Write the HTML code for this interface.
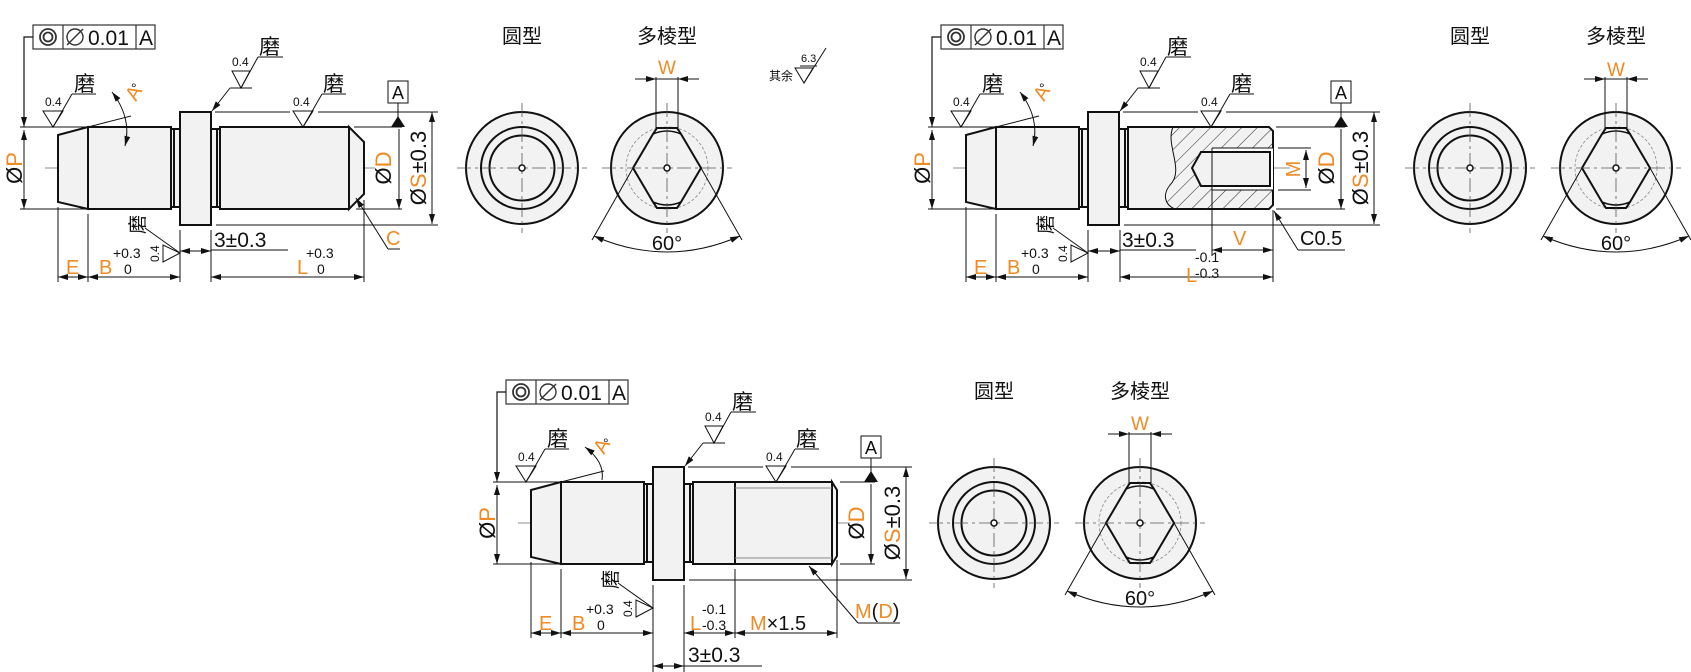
<!DOCTYPE html>
<html><head><meta charset="utf-8">
<style>
html,body{margin:0;padding:0;background:#fff;}
svg{display:block;}
text{font-family:"Liberation Sans","Noto Sans CJK SC",sans-serif;fill:#111;}
.o{fill:#f08a24;}
.k{font-family:"Noto Sans CJK SC","WenQuanYi Zen Hei",sans-serif;}
</style></head><body>
<svg width="1691" height="672" viewBox="0 0 1691 672" xmlns="http://www.w3.org/2000/svg">
<defs>
<marker id="a" viewBox="0 0 10 6" refX="10" refY="3" markerWidth="10" markerHeight="6" orient="auto-start-reverse" markerUnits="userSpaceOnUse"><path d="M0,0L10,3L0,6z" fill="#111"/></marker>
<pattern id="h" width="11" height="11" patternUnits="userSpaceOnUse" patternTransform="rotate(45)"><line x1="0" y1="0" x2="0" y2="11" stroke="#222" stroke-width="1"/></pattern>
<g id="left" stroke="#111" stroke-width="2" fill="#f2f2f2">
<polygon points="58,135 88,127 88,209 58,202"/>
<rect x="88" y="127" width="83" height="82"/>
<rect x="171" y="129" width="9" height="78"/>
<line x1="174" y1="129" x2="174" y2="207"/>
<rect x="180" y="112" width="31" height="113"/>
<rect x="211" y="129" width="9" height="78"/>
<line x1="217" y1="129" x2="217" y2="207"/>
</g>
<g id="fcfbox" fill="none" stroke="#333" stroke-width="1.2">
<rect x="33" y="25" width="122" height="24"/><line x1="63" y1="25" x2="63" y2="49"/><line x1="136" y1="25" x2="136" y2="49"/>
<circle cx="48" cy="37" r="8" stroke-width="1.8"/><circle cx="48" cy="37" r="4.5" stroke-width="1.8"/>
<circle cx="75" cy="37" r="8" stroke-width="1.4"/><line x1="67" y1="45" x2="83" y2="29" stroke-width="1.4"/>
<polyline points="33,37 24,37 24,120" stroke="#111"/>
</g>
<g id="circ">
<circle cx="0" cy="0" r="56" fill="#f2f2f2" stroke="#111" stroke-width="2"/>
<circle cx="0" cy="0" r="41" fill="none" stroke="#111" stroke-width="2"/>
<circle cx="0" cy="0" r="32.5" fill="none" stroke="#111" stroke-width="2"/>
<line x1="-65" y1="0" x2="65" y2="0" stroke="#555" stroke-width="0.8" stroke-dasharray="14,4,3,4"/>
<line x1="0" y1="-65" x2="0" y2="65" stroke="#555" stroke-width="0.8" stroke-dasharray="14,4,3,4"/>
<circle cx="0" cy="0" r="3" fill="#fff" stroke="#111" stroke-width="1.5"/>
</g>
<g id="poly">
<circle cx="0" cy="0" r="56" fill="#f2f2f2" stroke="#111" stroke-width="2"/>
<circle cx="0" cy="0" r="41" fill="none" stroke="#888" stroke-width="0.8" stroke-dasharray="3,2"/>
<polygon points="-34,0 -14,-34 -10,-40 10,-40 14,-34 34,0 14,34 10,40 -10,40 -14,34" fill="#f2f2f2" stroke="#111" stroke-width="2"/>
<path d="M-14,-34 Q0,-40 14,-34 M-14,34 Q0,40 14,34" fill="none" stroke="#111" stroke-width="1.5"/>
<line x1="-65" y1="0" x2="65" y2="0" stroke="#555" stroke-width="0.8" stroke-dasharray="14,4,3,4"/>
<line x1="0" y1="-65" x2="0" y2="65" stroke="#555" stroke-width="0.8" stroke-dasharray="14,4,3,4"/>
<circle cx="0" cy="0" r="3" fill="#fff" stroke="#111" stroke-width="1.5"/>
<g stroke="#111" stroke-width="1" fill="none">
<line x1="-11" y1="-40" x2="-11" y2="-91"/><line x1="11" y1="-40" x2="11" y2="-91"/>
<line x1="-32" y1="-89" x2="-11" y2="-89" marker-end="url(#a)"/><line x1="32" y1="-89" x2="11" y2="-89" marker-end="url(#a)"/>
<line x1="-11" y1="-89" x2="11" y2="-89"/>
<line x1="-34" y1="0" x2="-75" y2="72"/><line x1="34" y1="0" x2="75" y2="72"/>
<path d="M-73,68 Q0,100 73,68" marker-start="url(#a)" marker-end="url(#a)"/>
</g>
</g>
</defs>

<!-- ===== PIECE 1 ===== -->
<use href="#fcfbox"/>
<line x1="24" y1="112" x2="24" y2="127" stroke="#111" marker-end="url(#a)"/>
<text x="88" y="45" font-size="21">0.01</text><text x="139" y="45" font-size="21">A</text>
<line x1="45" y1="168" x2="375" y2="168" stroke="#666" stroke-width="0.8" stroke-dasharray="18,5,4,5"/>
<use href="#left"/>
<rect x="220" y="127" width="129" height="82" fill="#f2f2f2" stroke="#111" stroke-width="2"/>
<polygon points="349,127 364,142 364,194 349,209" fill="#f2f2f2" stroke="#111" stroke-width="2"/>
<g stroke="#111" stroke-width="1" fill="none">
<line x1="20" y1="127" x2="160" y2="127"/><line x1="20" y1="209" x2="88" y2="209"/>
<line x1="24" y1="130" x2="24" y2="209" marker-start="url(#a)" marker-end="url(#a)"/>
<line x1="215" y1="112" x2="290" y2="112"/><line x1="318" y1="112" x2="438" y2="112"/>
<line x1="354" y1="127" x2="402" y2="127"/><line x1="356" y1="209" x2="402" y2="209"/>
<line x1="216" y1="225" x2="438" y2="225"/>
<line x1="399" y1="129" x2="399" y2="209" marker-end="url(#a)"/>
<line x1="432" y1="112" x2="432" y2="224" marker-start="url(#a)" marker-end="url(#a)"/>
<rect x="388" y="81" width="20" height="22"/><line x1="398" y1="103" x2="398" y2="117"/>
<line x1="58" y1="207" x2="58" y2="282"/><line x1="88" y1="214" x2="88" y2="282"/>
<line x1="180" y1="230" x2="180" y2="282"/><line x1="211" y1="230" x2="211" y2="282"/><line x1="364" y1="200" x2="364" y2="282"/>
<line x1="58" y1="277" x2="88" y2="277" marker-start="url(#a)" marker-end="url(#a)"/>
<line x1="88" y1="277" x2="180" y2="277" marker-start="url(#a)" marker-end="url(#a)"/>
<line x1="211" y1="277" x2="364" y2="277" marker-start="url(#a)" marker-end="url(#a)"/>
<line x1="196" y1="251" x2="180" y2="251" marker-end="url(#a)"/><line x1="195" y1="251" x2="211" y2="251" marker-end="url(#a)"/>
<line x1="211" y1="250" x2="288" y2="250"/>
<line x1="388" y1="249" x2="356" y2="198" marker-end="url(#a)"/><line x1="388" y1="249" x2="400" y2="249"/>
<polygon points="43,111 63,111 53,127"/><line x1="53" y1="127" x2="72" y2="94"/><line x1="72" y1="94" x2="96" y2="94"/>
<polygon points="232,71 250,71 241,88"/><line x1="241" y1="88" x2="258" y2="57"/><line x1="258" y1="57" x2="283" y2="57"/>
<line x1="230" y1="88" x2="252" y2="88"/><line x1="230" y1="88" x2="212" y2="111" marker-end="url(#a)"/>
<polygon points="293,111 313,111 303,127"/><line x1="303" y1="127" x2="322" y2="94"/><line x1="322" y1="94" x2="346" y2="94"/>
<polygon points="163,245 163,262 180,253"/><line x1="180" y1="253" x2="145" y2="228"/>
<line x1="88" y1="127" x2="131" y2="116"/>
<path d="M112,92 Q132,118 125,146" marker-start="url(#a)" marker-end="url(#a)"/>
</g>
<polygon points="391,127 405,127 398,116" fill="#111"/>
<text x="45" y="106" font-size="12">0.4</text><text x="74" y="91" font-size="21" class="k">磨</text>
<text x="232" y="66" font-size="12">0.4</text><text x="259" y="54" font-size="21" class="k">磨</text>
<text x="293" y="106" font-size="12">0.4</text><text x="323" y="91" font-size="21" class="k">磨</text>
<text x="392" y="99" font-size="18">A</text>
<text transform="translate(159,262) rotate(-90)" font-size="12">0.4</text>
<text transform="translate(144,234) rotate(-90)" font-size="19" class="k">磨</text>
<text transform="translate(136,102) rotate(-60)" font-size="20" class="o">A</text><text x="131" y="93" font-size="14">°</text>
<text transform="translate(22,168) rotate(-90)" font-size="22" text-anchor="middle"><tspan>Ø</tspan><tspan class="o">P</tspan></text>
<text transform="translate(391,168) rotate(-90)" font-size="22" text-anchor="middle"><tspan>Ø</tspan><tspan class="o">D</tspan></text>
<text transform="translate(426,168) rotate(-90)" font-size="22" text-anchor="middle"><tspan>Ø</tspan><tspan class="o">S</tspan><tspan>±0.3</tspan></text>
<text x="66" y="274" font-size="20" class="o">E</text>
<text x="99" y="274" font-size="20" class="o">B</text><text x="113" y="258" font-size="14">+0.3</text><text x="124" y="274" font-size="14">0</text>
<text x="214" y="247" font-size="21">3±0.3</text>
<text x="297" y="274" font-size="20" class="o">L</text><text x="306" y="258" font-size="14">+0.3</text><text x="317" y="274" font-size="14">0</text>
<text x="386" y="245" font-size="20" class="o">C</text>

<!-- end views set 1 -->
<text x="522" y="43" font-size="20" text-anchor="middle" class="k">圆型</text>
<text x="667" y="43" font-size="20" text-anchor="middle" class="k">多棱型</text>
<use href="#circ" transform="translate(522,168)"/>
<use href="#poly" transform="translate(667,168)"/>
<text x="667" y="74" font-size="19" text-anchor="middle" class="o">W</text>
<text x="667" y="250" font-size="20" text-anchor="middle">60°</text>

<!-- 其余 -->
<text x="769" y="80" font-size="12" class="k">其余</text>
<g stroke="#111" stroke-width="1" fill="none"><polygon points="795,68 813,68 804,83"/><line x1="804" y1="83" x2="826" y2="48"/><line x1="800" y1="66" x2="817" y2="66"/></g>
<text x="801" y="62" font-size="11">6.3</text>

<!-- ===== PIECE 2 ===== -->
<use href="#fcfbox" transform="translate(908,0)"/>
<line x1="932" y1="112" x2="932" y2="127" stroke="#111" marker-end="url(#a)"/>
<text x="996" y="45" font-size="21">0.01</text><text x="1047" y="45" font-size="21">A</text>
<line x1="953" y1="168" x2="1290" y2="168" stroke="#666" stroke-width="0.8" stroke-dasharray="18,5,4,5"/>
<use href="#left" transform="translate(908,0)"/>
<path d="M1128,127 H1269 L1273,131 V205 L1269,209 H1128 Z" fill="#f2f2f2" stroke="#111" stroke-width="2"/>
<path d="M1173,127 C1165,145 1185,170 1170,185 C1162,195 1165,205 1175,209 H1269 L1273,205 V131 L1269,127 Z" fill="url(#h)" stroke="none"/>
<path d="M1173,127 C1165,145 1185,170 1170,185 C1162,195 1165,205 1175,209" fill="none" stroke="#111" stroke-width="1"/>
<path d="M1273,148 H1212 V152 H1201 L1192,168 L1201,184 H1212 V190 H1273 Z" fill="#fff" stroke="none"/>
<path d="M1201,152 H1270 V186 H1201 L1192,168 Z" fill="#f2f2f2" stroke="#111" stroke-width="2"/>
<g stroke="#111" stroke-width="1" fill="none">
<line x1="1212" y1="148" x2="1273" y2="148"/><line x1="1212" y1="190" x2="1273" y2="190"/><line x1="1212" y1="148" x2="1212" y2="190"/>
<line x1="928" y1="127" x2="1068" y2="127"/><line x1="928" y1="209" x2="996" y2="209"/>
<line x1="932" y1="130" x2="932" y2="209" marker-start="url(#a)" marker-end="url(#a)"/>
<line x1="1123" y1="112" x2="1198" y2="112"/><line x1="1226" y1="112" x2="1380" y2="112"/>
<line x1="1276" y1="127" x2="1345" y2="127"/><line x1="1276" y1="209" x2="1345" y2="209"/>
<line x1="1124" y1="225" x2="1380" y2="225"/>
<line x1="1278" y1="148" x2="1311" y2="148"/><line x1="1278" y1="190" x2="1311" y2="190"/>
<line x1="1306" y1="150" x2="1306" y2="188" marker-start="url(#a)" marker-end="url(#a)"/>
<line x1="1341" y1="129" x2="1341" y2="209" marker-end="url(#a)"/>
<line x1="1374" y1="112" x2="1374" y2="224" marker-start="url(#a)" marker-end="url(#a)"/>
<rect x="1331" y="81" width="20" height="22"/><line x1="1341" y1="103" x2="1341" y2="117"/>
<line x1="966" y1="207" x2="966" y2="282"/><line x1="996" y1="214" x2="996" y2="282"/>
<line x1="1088" y1="230" x2="1088" y2="282"/><line x1="1120" y1="230" x2="1120" y2="282"/><line x1="1273" y1="210" x2="1273" y2="282"/>
<line x1="1212" y1="190" x2="1212" y2="256"/>
<line x1="966" y1="277" x2="996" y2="277" marker-start="url(#a)" marker-end="url(#a)"/>
<line x1="996" y1="277" x2="1088" y2="277" marker-start="url(#a)" marker-end="url(#a)"/>
<line x1="1120" y1="277" x2="1273" y2="277" marker-start="url(#a)" marker-end="url(#a)"/>
<line x1="1212" y1="250" x2="1273" y2="250" marker-start="url(#a)" marker-end="url(#a)"/>
<line x1="1104" y1="251" x2="1088" y2="251" marker-end="url(#a)"/><line x1="1103" y1="251" x2="1120" y2="251" marker-end="url(#a)"/>
<line x1="1120" y1="250" x2="1196" y2="250"/>
<line x1="1298" y1="250" x2="1274" y2="211" marker-end="url(#a)"/><line x1="1298" y1="250" x2="1345" y2="250"/>
<polygon points="951,111 971,111 961,127"/><line x1="961" y1="127" x2="980" y2="94"/><line x1="980" y1="94" x2="1004" y2="94"/>
<polygon points="1140,71 1158,71 1149,88"/><line x1="1149" y1="88" x2="1166" y2="57"/><line x1="1166" y1="57" x2="1191" y2="57"/>
<line x1="1138" y1="88" x2="1160" y2="88"/><line x1="1138" y1="88" x2="1120" y2="111" marker-end="url(#a)"/>
<polygon points="1201,111 1221,111 1211,127"/><line x1="1211" y1="127" x2="1230" y2="94"/><line x1="1230" y1="94" x2="1254" y2="94"/>
<polygon points="1071,245 1071,262 1088,253"/><line x1="1088" y1="253" x2="1053" y2="228"/>
<line x1="996" y1="127" x2="1039" y2="116"/>
<path d="M1020,92 Q1040,118 1033,146" marker-start="url(#a)" marker-end="url(#a)"/>
</g>
<polygon points="1334,127 1348,127 1341,116" fill="#111"/>
<text x="953" y="106" font-size="12">0.4</text><text x="982" y="91" font-size="21" class="k">磨</text>
<text x="1140" y="66" font-size="12">0.4</text><text x="1167" y="54" font-size="21" class="k">磨</text>
<text x="1201" y="106" font-size="12">0.4</text><text x="1231" y="91" font-size="21" class="k">磨</text>
<text x="1335" y="99" font-size="18">A</text>
<text transform="translate(1067,262) rotate(-90)" font-size="12">0.4</text>
<text transform="translate(1052,234) rotate(-90)" font-size="19" class="k">磨</text>
<text transform="translate(1044,102) rotate(-60)" font-size="20" class="o">A</text><text x="1039" y="93" font-size="14">°</text>
<text transform="translate(930,168) rotate(-90)" font-size="22" text-anchor="middle"><tspan>Ø</tspan><tspan class="o">P</tspan></text>
<text transform="translate(1300,169) rotate(-90)" font-size="20" text-anchor="middle" class="o">M</text>
<text transform="translate(1334,168) rotate(-90)" font-size="22" text-anchor="middle"><tspan>Ø</tspan><tspan class="o">D</tspan></text>
<text transform="translate(1368,168) rotate(-90)" font-size="22" text-anchor="middle"><tspan>Ø</tspan><tspan class="o">S</tspan><tspan>±0.3</tspan></text>
<text x="974" y="274" font-size="20" class="o">E</text>
<text x="1007" y="274" font-size="20" class="o">B</text><text x="1021" y="258" font-size="14">+0.3</text><text x="1032" y="274" font-size="14">0</text>
<text x="1122" y="247" font-size="21">3±0.3</text>
<text x="1233" y="245" font-size="20" class="o">V</text>
<text x="1186" y="282" font-size="20" class="o">L</text><text x="1195" y="262" font-size="14">-0.1</text><text x="1195" y="278" font-size="14">-0.3</text>
<text x="1300" y="245" font-size="20">C0.5</text>

<!-- end views set 2 -->
<text x="1470" y="43" font-size="20" text-anchor="middle" class="k">圆型</text>
<text x="1616" y="43" font-size="20" text-anchor="middle" class="k">多棱型</text>
<use href="#circ" transform="translate(1470,168)"/>
<use href="#poly" transform="translate(1616,168)"/>
<text x="1616" y="76" font-size="19" text-anchor="middle" class="o">W</text>
<text x="1616" y="250" font-size="20" text-anchor="middle">60°</text>

<!-- ===== PIECE 3 ===== -->
<use href="#fcfbox" transform="translate(473,355)"/>
<line x1="497" y1="467" x2="497" y2="482" stroke="#111" marker-end="url(#a)"/>
<text x="561" y="400" font-size="21">0.01</text><text x="612" y="400" font-size="21">A</text>
<line x1="518" y1="523" x2="850" y2="523" stroke="#666" stroke-width="0.8" stroke-dasharray="18,5,4,5"/>
<use href="#left" transform="translate(473,355)"/>
<rect x="693" y="482" width="139" height="82" fill="#f2f2f2" stroke="#111" stroke-width="2"/>
<polygon points="832,482 837,490 837,556 832,564" fill="#f2f2f2" stroke="#111" stroke-width="2"/>
<line x1="735" y1="482" x2="735" y2="564" stroke="#111" stroke-width="2"/>
<line x1="735" y1="488" x2="832" y2="488" stroke="#888" stroke-width="1"/>
<line x1="735" y1="558" x2="832" y2="558" stroke="#888" stroke-width="1"/>
<g stroke="#111" stroke-width="1" fill="none">
<line x1="493" y1="482" x2="633" y2="482"/><line x1="493" y1="564" x2="561" y2="564"/>
<line x1="497" y1="485" x2="497" y2="564" marker-start="url(#a)" marker-end="url(#a)"/>
<line x1="688" y1="467" x2="763" y2="467"/><line x1="791" y1="467" x2="912" y2="467"/>
<line x1="840" y1="482" x2="875" y2="482"/><line x1="840" y1="564" x2="875" y2="564"/>
<line x1="689" y1="580" x2="912" y2="580"/>
<line x1="871" y1="484" x2="871" y2="564" marker-end="url(#a)"/>
<line x1="906" y1="467" x2="906" y2="579" marker-start="url(#a)" marker-end="url(#a)"/>
<rect x="861" y="436" width="20" height="22"/><line x1="871" y1="458" x2="871" y2="472"/>
<line x1="531" y1="562" x2="531" y2="638"/><line x1="561" y1="569" x2="561" y2="638"/>
<line x1="653" y1="585" x2="653" y2="672"/><line x1="684" y1="585" x2="684" y2="672"/>
<line x1="735" y1="569" x2="735" y2="638"/><line x1="837" y1="560" x2="837" y2="638"/>
<line x1="531" y1="633" x2="561" y2="633" marker-start="url(#a)" marker-end="url(#a)"/>
<line x1="561" y1="633" x2="653" y2="633" marker-start="url(#a)" marker-end="url(#a)"/>
<line x1="684" y1="633" x2="735" y2="633" marker-start="url(#a)" marker-end="url(#a)"/>
<line x1="735" y1="633" x2="837" y2="633" marker-start="url(#a)" marker-end="url(#a)"/>
<line x1="669" y1="666" x2="653" y2="666" marker-end="url(#a)"/><line x1="668" y1="666" x2="684" y2="666" marker-end="url(#a)"/>
<line x1="684" y1="666" x2="762" y2="666"/>
<line x1="858" y1="623" x2="809" y2="566" marker-end="url(#a)"/><line x1="858" y1="623" x2="900" y2="623"/>
<polygon points="516,466 536,466 526,482"/><line x1="526" y1="482" x2="545" y2="449"/><line x1="545" y1="449" x2="569" y2="449"/>
<polygon points="705,426 723,426 714,443"/><line x1="714" y1="443" x2="731" y2="412"/><line x1="731" y1="412" x2="756" y2="412"/>
<line x1="703" y1="443" x2="725" y2="443"/><line x1="703" y1="443" x2="685" y2="466" marker-end="url(#a)"/>
<polygon points="766,466 786,466 776,482"/><line x1="776" y1="482" x2="795" y2="449"/><line x1="795" y1="449" x2="819" y2="449"/>
<polygon points="636,600 636,617 653,608"/><line x1="653" y1="608" x2="618" y2="583"/>
<line x1="561" y1="482" x2="604" y2="471"/>
<path d="M585,447 Q605,462 602,480" marker-start="url(#a)"/>
</g>
<polygon points="864,482 878,482 871,471" fill="#111"/>
<text x="518" y="461" font-size="12">0.4</text><text x="547" y="446" font-size="21" class="k">磨</text>
<text x="705" y="421" font-size="12">0.4</text><text x="732" y="409" font-size="21" class="k">磨</text>
<text x="766" y="461" font-size="12">0.4</text><text x="796" y="446" font-size="21" class="k">磨</text>
<text x="865" y="454" font-size="18">A</text>
<text transform="translate(632,617) rotate(-90)" font-size="12">0.4</text>
<text transform="translate(617,589) rotate(-90)" font-size="19" class="k">磨</text>
<text transform="translate(604,455) rotate(-60)" font-size="20" class="o">A</text><text x="603" y="448" font-size="14">°</text>
<text transform="translate(495,523) rotate(-90)" font-size="22" text-anchor="middle"><tspan>Ø</tspan><tspan class="o">P</tspan></text>
<text transform="translate(864,523) rotate(-90)" font-size="22" text-anchor="middle"><tspan>Ø</tspan><tspan class="o">D</tspan></text>
<text transform="translate(900,523) rotate(-90)" font-size="22" text-anchor="middle"><tspan>Ø</tspan><tspan class="o">S</tspan><tspan>±0.3</tspan></text>
<text x="539" y="630" font-size="20" class="o">E</text>
<text x="572" y="630" font-size="20" class="o">B</text><text x="586" y="614" font-size="14">+0.3</text><text x="597" y="630" font-size="14">0</text>
<text x="688" y="662" font-size="21">3±0.3</text>
<text x="690" y="630" font-size="20" class="o">L</text><text x="702" y="614" font-size="14">-0.1</text><text x="702" y="630" font-size="14">-0.3</text>
<text x="750" y="630" font-size="20"><tspan class="o">M</tspan><tspan>×1.5</tspan></text>
<text x="855" y="618" font-size="20"><tspan class="o">M</tspan><tspan>(</tspan><tspan class="o">D</tspan><tspan>)</tspan></text>

<!-- end views set 3 -->
<text x="994" y="398" font-size="20" text-anchor="middle" class="k">圆型</text>
<text x="1140" y="398" font-size="20" text-anchor="middle" class="k">多棱型</text>
<use href="#circ" transform="translate(994,523)"/>
<use href="#poly" transform="translate(1140,523)"/>
<text x="1140" y="430" font-size="19" text-anchor="middle" class="o">W</text>
<text x="1140" y="605" font-size="20" text-anchor="middle">60°</text>
</svg>
</body></html>
